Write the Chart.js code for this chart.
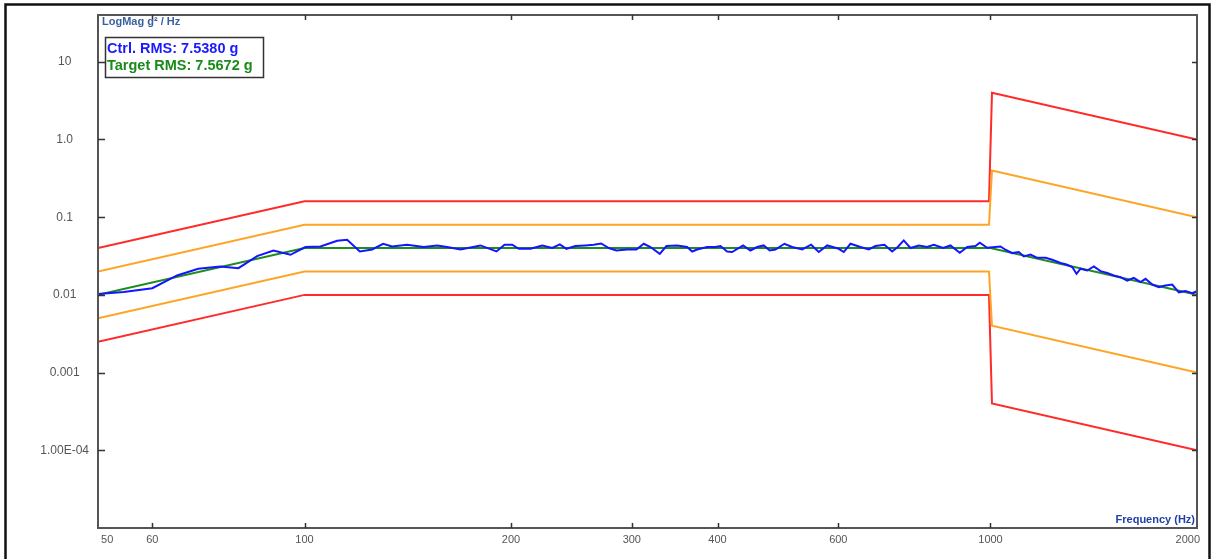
<!DOCTYPE html>
<html>
<head>
<meta charset="utf-8">
<script src="https://cdn.jsdelivr.net/npm/chart.js@4.4.1/dist/chart.umd.min.js"></script>
<style>
  html, body { margin: 0; padding: 0; background: #fff; }
  canvas { display: block; }
</style>
</head>
<body>
<canvas id="psdChart" width="1213" height="559"></canvas>
<script>
// Axis ticks
const xTickValues = [50, 60, 100, 200, 300, 400, 600, 1000, 2000];
const xTickLabels = ['50', '60', '100', '200', '300', '400', '600', '1000', '2000'];
const yTickValues = [1e-4, 1e-3, 0.01, 0.1, 1, 10];
const yTickLabels = ['1.00E-04', '0.001', '0.01', '0.1', '1.0', '10'];

// Control spectrum
const ctrlFreq = [
  50, 54.5, 60, 65.2, 70, 75.4, 80.1, 85.3, 90.1, 95.4,
  100.3, 105.5, 111.6, 115.4, 120.4, 125.5, 130.2, 134.2, 141.1, 149.2,
  156.1, 161.4, 168.8, 180.5, 190.5, 195.7, 200.8, 205.3, 213.5, 222.1,
  229.7, 235.6, 240.9, 248.3, 256.8, 264.1, 270.7, 277.7, 284.9, 295.3,
  304.7, 312.3, 319.4, 329.5, 337, 349.3, 361.2, 367.4, 373.6, 386.3,
  397.2, 404, 413.1, 420.1, 435.9, 446.7, 456.9, 467.1, 476.6, 485.8,
  500.7, 513.9, 531.4, 547.7, 561.9, 577.9, 600.9, 611.1, 625, 646.3,
  664.5, 679.7, 700.5, 718.9, 732.5, 747.4, 764.4, 786, 808.5, 826.6,
  853.1, 874.2, 902, 924.7, 950.8, 964.7, 989, 1034, 1051.6, 1075.7,
  1099.8, 1118.4, 1143.8, 1169.8, 1202.9, 1230.3, 1265, 1290.8, 1315.7, 1334.8,
  1352.9, 1383.6, 1414.6, 1446.8, 1479.7, 1512.8, 1547.2, 1582.4, 1617.9, 1654.6,
  1682.6, 1720.9, 1759.4, 1799.4, 1840.4, 1881.6, 1924.4, 1968.2, 2000, 2000
];
const ctrlPsd = [
  0.0103, 0.0109, 0.0122, 0.0178, 0.0217, 0.0232, 0.0221, 0.0316, 0.0373, 0.0328,
  0.0413, 0.0420, 0.0498, 0.0513, 0.0362, 0.0384, 0.0455, 0.0420, 0.0442, 0.0413,
  0.0433, 0.0413, 0.0384, 0.0433, 0.0362, 0.0442, 0.0442, 0.0392, 0.0392, 0.0433,
  0.0401, 0.0446, 0.0392, 0.0425, 0.0433, 0.0442, 0.0459, 0.0401, 0.0373, 0.0384,
  0.0384, 0.0455, 0.0413, 0.0338, 0.0425, 0.0433, 0.0413, 0.0362, 0.0384, 0.0413,
  0.0413, 0.0425, 0.0362, 0.0356, 0.0433, 0.0373, 0.0413, 0.0433, 0.0373, 0.0384,
  0.0455, 0.0413, 0.0384, 0.0442, 0.0356, 0.0433, 0.0392, 0.0356, 0.0455, 0.0413,
  0.0384, 0.0425, 0.0442, 0.0362, 0.0413, 0.0502, 0.0401, 0.0433, 0.0413, 0.0442,
  0.0401, 0.0433, 0.0348, 0.0413, 0.0425, 0.0469, 0.0404, 0.0420, 0.0381, 0.0345,
  0.0356, 0.0312, 0.0331, 0.0300, 0.0300, 0.0283, 0.0257, 0.0246, 0.0228, 0.0187,
  0.0217, 0.0206, 0.0232, 0.0202, 0.0191, 0.0178, 0.0169, 0.0153, 0.0166, 0.0146,
  0.0161, 0.0136, 0.0126, 0.0132, 0.0136, 0.0108, 0.0112, 0.0105, 0.0112, 0.0031
];

// Reference profile and limits
const targetFreq = [50, 100, 1000, 2000];
const targetPsd = [0.01, 0.04, 0.04, 0.01];
const limitFreq = [50, 100, 995, 1005, 2000];
const abortHigh = [0.04, 0.16, 0.16, 4, 1];
const alarmHigh = [0.02, 0.08, 0.08, 0.4, 0.1];
const alarmLow = [0.005, 0.02, 0.02, 0.004, 0.001];
const abortLow = [0.0025, 0.01, 0.01, 0.0004, 0.0001];

// Readout box
const rmsLines = ['Ctrl. RMS: 7.5380 g', 'Target RMS: 7.5672 g'];
const rmsColors = ['#1a1aff', '#1a8a1a'];

const FONT = 'Arial, "Liberation Sans", sans-serif';

function toPoints(xs, ys) {
  return xs.map((f, i) => ({ x: f, y: ys[i] }));
}

function lineSet(label, xs, ys, color, width) {
  return {
    label: label,
    data: toPoints(xs, ys),
    showLine: true,
    borderColor: color,
    borderWidth: width,
    pointRadius: 0,
    tension: 0,
    fill: false,
  };
}

// Outer black border behind everything
const outerFrame = {
  id: 'outerFrame',
  beforeDraw(chart) {
    const ctx = chart.ctx;
    ctx.save();
    ctx.fillStyle = '#fff';
    ctx.fillRect(0, 0, chart.width, chart.height);
    ctx.strokeStyle = '#111';
    ctx.lineWidth = 2.5;
    ctx.strokeRect(5.5, 4.5, 1204, 620);
    ctx.restore();
  },
};

// Plot frame, inward tick marks, axis titles and RMS box
const plotFrame = {
  id: 'plotFrame',
  afterDraw(chart) {
    const { ctx, chartArea: a, scales } = chart;
    ctx.save();
    ctx.strokeStyle = '#555';
    ctx.lineWidth = 2;
    ctx.strokeRect(a.left, a.top, a.right - a.left, a.bottom - a.top);

    ctx.strokeStyle = '#333';
    ctx.lineWidth = 1.5;
    ctx.beginPath();
    yTickValues.forEach(v => {
      const py = Math.round(scales.y.getPixelForValue(v)) + 0.5;
      ctx.moveTo(a.left, py); ctx.lineTo(a.left + 7, py);
      ctx.moveTo(a.right - 5, py); ctx.lineTo(a.right, py);
    });
    xTickValues.slice(1, -1).forEach(v => {
      const px = Math.round(scales.x.getPixelForValue(v)) + 0.5;
      ctx.moveTo(px, a.bottom); ctx.lineTo(px, a.bottom - 5);
      ctx.moveTo(px, a.top); ctx.lineTo(px, a.top + 5);
    });
    ctx.stroke();

    // axis titles
    ctx.textBaseline = 'alphabetic';
    ctx.fillStyle = '#3a5fa0';
    ctx.font = 'bold 11px ' + FONT;
    ctx.textAlign = 'left';
    ctx.fillText('LogMag g\u00B2 / Hz', a.left + 4, a.top + 10);
    ctx.fillStyle = '#2040a8';
    ctx.textAlign = 'right';
    ctx.fillText('Frequency (Hz)', a.right - 2, a.bottom - 5);

    // RMS readout box
    ctx.strokeStyle = '#333';
    ctx.lineWidth = 1.5;
    ctx.strokeRect(a.left + 7.5, a.top + 22.5, 158, 40);
    ctx.font = 'bold 14.5px ' + FONT;
    ctx.textAlign = 'left';
    rmsLines.forEach((txt, i) => {
      ctx.fillStyle = rmsColors[i];
      ctx.fillText(txt, a.left + 9, a.top + 38 + i * 17);
    });
    ctx.restore();
  },
};

const ctx = document.getElementById('psdChart').getContext('2d');

new Chart(ctx, {
  type: 'scatter',
  data: {
    datasets: [
      lineSet('Control', ctrlFreq, ctrlPsd, '#1414ff', 2),
      lineSet('Target', targetFreq, targetPsd, '#1e8c1e', 2),
      lineSet('Alarm High', limitFreq, alarmHigh, '#ffa526', 2),
      lineSet('Alarm Low', limitFreq, alarmLow, '#ffa526', 2),
      lineSet('Abort High', limitFreq, abortHigh, '#ff2a2a', 2),
      lineSet('Abort Low', limitFreq, abortLow, '#ff2a2a', 2),
    ],
  },
  options: {
    responsive: false,
    animation: false,
    layout: { padding: { top: 15, right: 16, left: 0, bottom: 0 } },
    plugins: {
      legend: { display: false },
      tooltip: { enabled: false },
    },
    scales: {
      x: {
        type: 'logarithmic',
        min: 50,
        max: 2000,
        grid: { display: false, drawTicks: false },
        border: { display: false },
        afterBuildTicks: scale => {
          scale.ticks = xTickValues.map(v => ({ value: v }));
        },
        afterFit: scale => {
          scale.height = 31;
          scale.paddingLeft = 0;
          scale.paddingRight = 0;
        },
        ticks: {
          autoSkip: false,
          maxRotation: 0,
          padding: 5,
          color: '#555',
          font: { family: FONT, size: 11 },
          callback: (value, index) => {
            const label = xTickLabels[index];
            if (index === 0) return '      ' + label;
            if (index === xTickLabels.length - 1) return label + '      ';
            return label;
          },
        },
      },
      y: {
        type: 'logarithmic',
        min: 1e-5,
        max: 40,
        grid: { display: false, drawTicks: false },
        border: { display: false },
        afterBuildTicks: scale => {
          scale.ticks = yTickValues.map(v => ({ value: v }));
        },
        afterFit: scale => {
          scale.width = 98;
          scale.paddingTop = 0;
          scale.paddingBottom = 0;
        },
        ticks: {
          autoSkip: false,
          crossAlign: 'center',
          padding: 9,
          color: '#555',
          font: { family: FONT, size: 12 },
          callback: (value, index) => yTickLabels[index],
        },
      },
    },
  },
  plugins: [outerFrame, plotFrame],
});
</script>
</body>
</html>
